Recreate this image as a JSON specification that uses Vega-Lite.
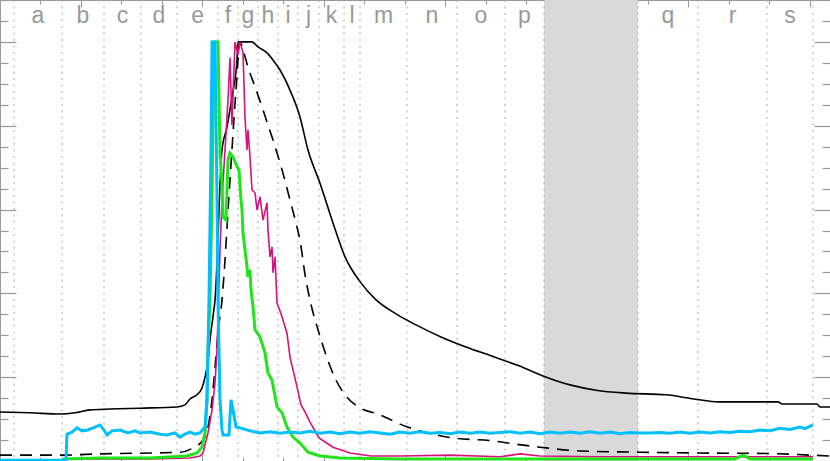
{
  "$schema": "https://vega.github.io/schema/vega-lite/v6.json",
  "width": 830,
  "height": 461,
  "padding": 0,
  "autosize": {"type": "none"},
  "background": "white",
  "config": {"view": {"stroke": null}},
  "resolve": {"axis": {"x": "independent", "y": "independent"}},
  "datasets": {
    "band": [{"t": 13.432, "t2": 15.753}],
    "bounds": [{"t": 0.346}, {"t": 1.531}, {"t": 2.568}, {"t": 3.481}, {"t": 4.370}, {"t": 5.383}, {"t": 5.877}, {"t": 6.370}, {"t": 6.864}, {"t": 7.358}, {"t": 7.877}, {"t": 8.494}, {"t": 8.889}, {"t": 10.049}, {"t": 11.284}, {"t": 12.469}, {"t": 13.432}, {"t": 15.753}, {"t": 17.235}, {"t": 18.938}, {"t": 20.074}],
    "labels": [{"t": 0.938, "label": "a"}, {"t": 2.049, "label": "b"}, {"t": 3.025, "label": "c"}, {"t": 3.926, "label": "d"}, {"t": 4.877, "label": "e"}, {"t": 5.630, "label": "f"}, {"t": 6.123, "label": "g"}, {"t": 6.617, "label": "h"}, {"t": 7.111, "label": "i"}, {"t": 7.617, "label": "j"}, {"t": 8.185, "label": "k"}, {"t": 8.691, "label": "l"}, {"t": 9.469, "label": "m"}, {"t": 10.667, "label": "n"}, {"t": 11.877, "label": "o"}, {"t": 12.951, "label": "p"}, {"t": 16.494, "label": "q"}, {"t": 18.086, "label": "r"}, {"t": 19.506, "label": "s"}],
    "black": [{"t":0,"v":0.117},{"t":0.741,"v":0.115},{"t":1.481,"v":0.112},{"t":1.852,"v":0.115},{"t":2.222,"v":0.122},{"t":2.716,"v":0.124},{"t":3.457,"v":0.126},{"t":4.370,"v":0.129},{"t":4.568,"v":0.134},{"t":4.691,"v":0.148},{"t":4.864,"v":0.158},{"t":4.988,"v":0.174},{"t":5.062,"v":0.200},{"t":5.136,"v":0.241},{"t":5.185,"v":0.289},{"t":5.259,"v":0.344},{"t":5.309,"v":0.384},{"t":5.481,"v":0.742},{"t":5.605,"v":0.797},{"t":5.728,"v":0.869},{"t":5.852,"v":0.957},{"t":5.877,"v":1.0},{"t":6.222,"v":1.0},{"t":6.370,"v":0.988},{"t":6.593,"v":0.974},{"t":6.741,"v":0.957},{"t":6.914,"v":0.933},{"t":7.160,"v":0.885},{"t":7.407,"v":0.821},{"t":7.605,"v":0.742},{"t":7.901,"v":0.663},{"t":8.222,"v":0.568},{"t":8.519,"v":0.487},{"t":8.889,"v":0.428},{"t":9.259,"v":0.387},{"t":9.778,"v":0.351},{"t":10.370,"v":0.320},{"t":10.889,"v":0.296},{"t":11.506,"v":0.272},{"t":12.123,"v":0.251},{"t":12.815,"v":0.227},{"t":13.407,"v":0.203},{"t":14.099,"v":0.181},{"t":14.716,"v":0.169},{"t":15.457,"v":0.162},{"t":16.444,"v":0.158},{"t":17.136,"v":0.148},{"t":17.753,"v":0.141},{"t":19.210,"v":0.141},{"t":19.309,"v":0.136},{"t":20.173,"v":0.136},{"t":20.247,"v":0.129},{"t":20.494,"v":0.129}],
    "dashed": [{"t":0,"v":0.014},{"t":1.481,"v":0.014},{"t":2.469,"v":0.017},{"t":4.444,"v":0.021},{"t":4.765,"v":0.031},{"t":5.012,"v":0.050},{"t":5.136,"v":0.081},{"t":5.235,"v":0.146},{"t":5.309,"v":0.224},{"t":5.383,"v":0.305},{"t":5.481,"v":0.384},{"t":5.679,"v":0.671},{"t":5.827,"v":0.885},{"t":5.926,"v":1.0},{"t":6.0,"v":0.981},{"t":6.123,"v":0.940},{"t":6.296,"v":0.893},{"t":6.469,"v":0.845},{"t":6.617,"v":0.802},{"t":6.741,"v":0.766},{"t":6.840,"v":0.735},{"t":6.963,"v":0.695},{"t":7.160,"v":0.623},{"t":7.333,"v":0.558},{"t":7.407,"v":0.527},{"t":7.531,"v":0.445},{"t":7.654,"v":0.384},{"t":7.852,"v":0.313},{"t":8.049,"v":0.253},{"t":8.296,"v":0.193},{"t":8.519,"v":0.158},{"t":8.815,"v":0.131},{"t":9.383,"v":0.110},{"t":9.679,"v":0.097},{"t":9.877,"v":0.088},{"t":10.296,"v":0.074},{"t":11.185,"v":0.055},{"t":12.173,"v":0.048},{"t":12.667,"v":0.041},{"t":13.333,"v":0.033},{"t":14.321,"v":0.024},{"t":15.802,"v":0.021},{"t":17.284,"v":0.019},{"t":18.938,"v":0.018},{"t":20.0,"v":0.014},{"t":20.494,"v":0.012}],
    "magenta": [{"t":1.531,"v":0.005},{"t":3.704,"v":0.005},{"t":4.691,"v":0.007},{"t":4.938,"v":0.012},{"t":5.012,"v":0.019},{"t":5.136,"v":0.067},{"t":5.235,"v":0.122},{"t":5.309,"v":0.186},{"t":5.358,"v":0.265},{"t":5.432,"v":0.504},{"t":5.481,"v":0.623},{"t":5.556,"v":0.742},{"t":5.630,"v":0.862},{"t":5.679,"v":0.962},{"t":5.728,"v":0.802},{"t":5.802,"v":1.0},{"t":5.877,"v":0.969},{"t":5.926,"v":1.0},{"t":6.0,"v":0.974},{"t":6.049,"v":0.821},{"t":6.099,"v":0.742},{"t":6.123,"v":0.790},{"t":6.173,"v":0.726},{"t":6.222,"v":0.647},{"t":6.296,"v":0.640},{"t":6.346,"v":0.599},{"t":6.420,"v":0.630},{"t":6.494,"v":0.575},{"t":6.593,"v":0.616},{"t":6.617,"v":0.551},{"t":6.667,"v":0.487},{"t":6.716,"v":0.511},{"t":6.741,"v":0.449},{"t":6.790,"v":0.487},{"t":6.840,"v":0.377},{"t":6.914,"v":0.358},{"t":6.963,"v":0.344},{"t":7.086,"v":0.305},{"t":7.160,"v":0.248},{"t":7.235,"v":0.217},{"t":7.333,"v":0.177},{"t":7.432,"v":0.134},{"t":7.531,"v":0.117},{"t":7.654,"v":0.093},{"t":7.877,"v":0.055},{"t":8.222,"v":0.033},{"t":8.642,"v":0.019},{"t":9.160,"v":0.012},{"t":9.877,"v":0.012},{"t":11.111,"v":0.014},{"t":12.346,"v":0.010},{"t":12.840,"v":0.017},{"t":13.333,"v":0.012},{"t":14.815,"v":0.010},{"t":17.284,"v":0.010},{"t":20.074,"v":0.010}],
    "green": [{"t":1.531,"v":0.005},{"t":2.469,"v":0.007},{"t":3.704,"v":0.007},{"t":4.617,"v":0.012},{"t":4.864,"v":0.019},{"t":4.988,"v":0.033},{"t":5.062,"v":0.067},{"t":5.111,"v":0.146},{"t":5.136,"v":0.265},{"t":5.185,"v":0.384},{"t":5.235,"v":0.623},{"t":5.284,"v":1.0},{"t":5.383,"v":1.0},{"t":5.432,"v":0.735},{"t":5.481,"v":0.663},{"t":5.506,"v":0.582},{"t":5.580,"v":0.575},{"t":5.630,"v":0.718},{"t":5.679,"v":0.735},{"t":5.753,"v":0.726},{"t":5.852,"v":0.702},{"t":5.901,"v":0.695},{"t":5.951,"v":0.623},{"t":5.975,"v":0.599},{"t":6.0,"v":0.544},{"t":6.099,"v":0.463},{"t":6.123,"v":0.439},{"t":6.173,"v":0.456},{"t":6.198,"v":0.408},{"t":6.247,"v":0.368},{"t":6.296,"v":0.313},{"t":6.420,"v":0.296},{"t":6.543,"v":0.258},{"t":6.617,"v":0.210},{"t":6.716,"v":0.193},{"t":6.840,"v":0.129},{"t":6.963,"v":0.115},{"t":7.086,"v":0.081},{"t":7.235,"v":0.057},{"t":7.407,"v":0.043},{"t":7.605,"v":0.021},{"t":7.901,"v":0.012},{"t":8.395,"v":0.007},{"t":9.877,"v":0.005},{"t":14.815,"v":0.005},{"t":18.148,"v":0.005},{"t":18.346,"v":0.014},{"t":18.519,"v":0.005},{"t":20.074,"v":0.005}],
    "cyan": [{"t":0,"v":0.002},{"t":1.630,"v":0.002},{"t":1.654,"v":0.064},{"t":1.778,"v":0.069},{"t":1.901,"v":0.079},{"t":2.025,"v":0.072},{"t":2.173,"v":0.074},{"t":2.346,"v":0.081},{"t":2.469,"v":0.086},{"t":2.568,"v":0.074},{"t":2.642,"v":0.062},{"t":2.765,"v":0.072},{"t":2.963,"v":0.074},{"t":3.160,"v":0.067},{"t":3.333,"v":0.072},{"t":3.457,"v":0.067},{"t":3.704,"v":0.069},{"t":3.951,"v":0.064},{"t":4.123,"v":0.062},{"t":4.321,"v":0.067},{"t":4.444,"v":0.057},{"t":4.568,"v":0.064},{"t":4.691,"v":0.069},{"t":4.815,"v":0.064},{"t":4.938,"v":0.067},{"t":5.062,"v":0.081},{"t":5.111,"v":0.146},{"t":5.160,"v":0.384},{"t":5.210,"v":0.742},{"t":5.235,"v":1.0},{"t":5.309,"v":1.0},{"t":5.358,"v":0.623},{"t":5.383,"v":0.384},{"t":5.432,"v":0.146},{"t":5.481,"v":0.074},{"t":5.506,"v":0.062},{"t":5.654,"v":0.062},{"t":5.704,"v":0.146},{"t":5.753,"v":0.122},{"t":5.827,"v":0.081},{"t":5.926,"v":0.079},{"t":6.173,"v":0.072},{"t":6.420,"v":0.067},{"t":6.667,"v":0.070},{"t":6.914,"v":0.066},{"t":7.160,"v":0.069},{"t":7.407,"v":0.067},{"t":7.654,"v":0.071},{"t":7.901,"v":0.066},{"t":8.148,"v":0.069},{"t":8.395,"v":0.065},{"t":8.642,"v":0.069},{"t":8.889,"v":0.066},{"t":9.136,"v":0.070},{"t":9.383,"v":0.067},{"t":9.630,"v":0.064},{"t":9.877,"v":0.069},{"t":10.123,"v":0.066},{"t":10.370,"v":0.070},{"t":10.617,"v":0.066},{"t":10.864,"v":0.068},{"t":11.111,"v":0.065},{"t":11.358,"v":0.069},{"t":11.605,"v":0.066},{"t":11.852,"v":0.069},{"t":12.099,"v":0.066},{"t":12.346,"v":0.068},{"t":12.593,"v":0.070},{"t":12.840,"v":0.066},{"t":13.086,"v":0.069},{"t":13.333,"v":0.065},{"t":13.580,"v":0.069},{"t":13.827,"v":0.066},{"t":14.074,"v":0.069},{"t":14.321,"v":0.066},{"t":14.568,"v":0.070},{"t":14.815,"v":0.066},{"t":15.062,"v":0.069},{"t":15.309,"v":0.065},{"t":15.556,"v":0.068},{"t":15.802,"v":0.067},{"t":16.049,"v":0.067},{"t":16.296,"v":0.068},{"t":16.543,"v":0.066},{"t":16.790,"v":0.069},{"t":17.037,"v":0.066},{"t":17.284,"v":0.069},{"t":17.531,"v":0.067},{"t":17.778,"v":0.070},{"t":18.025,"v":0.068},{"t":18.272,"v":0.071},{"t":18.519,"v":0.070},{"t":18.765,"v":0.074},{"t":19.012,"v":0.072},{"t":19.259,"v":0.078},{"t":19.506,"v":0.075},{"t":19.753,"v":0.081},{"t":19.877,"v":0.077},{"t":20.074,"v":0.086}]
  },
  "layer": [
    {
      "data": {"name": "band"},
      "mark": {"type": "rect", "color": "#d9d9d9"},
      "encoding": {
        "x": {"field": "t", "type": "quantitative", "scale": {"domain": [0, 20.494], "nice": false, "zero": false}, "axis": null},
        "x2": {"field": "t2"},
        "y": {"datum": 0, "type": "quantitative", "scale": {"domain": [0, 1.1], "nice": false, "zero": false}, "axis": null},
        "y2": {"datum": 1.1}
      }
    },
    {
      "data": {"name": "bounds"},
      "mark": {"type": "rule", "color": "#aaaaaa", "strokeWidth": 1, "strokeDash": [2, 4.5]},
      "encoding": {
        "x": {"field": "t", "type": "quantitative", "scale": {"domain": [0, 20.494], "nice": false, "zero": false}, "axis": null}
      }
    },
    {
      "data": {"name": "labels"},
      "mark": {"type": "text", "color": "#999999", "font": "Liberation Sans", "fontSize": 23, "align": "center", "baseline": "alphabetic"},
      "encoding": {
        "x": {"field": "t", "type": "quantitative", "scale": {"domain": [0, 20.494], "nice": false, "zero": false}, "axis": null},
        "y": {"datum": 1.045, "type": "quantitative", "scale": {"domain": [0, 1.1], "nice": false, "zero": false}, "axis": null},
        "text": {"field": "label"}
      }
    },
    {
      "data": {"name": "black"},
      "mark": {"type": "line", "color": "#000000", "strokeWidth": 1.6, "interpolate": "monotone"},
      "encoding": {
        "x": {"field": "t", "type": "quantitative", "scale": {"domain": [0, 20.494], "nice": false, "zero": false}, "axis": null},
        "y": {"field": "v", "type": "quantitative", "scale": {"domain": [0, 1.1], "nice": false, "zero": false}, "axis": null}
      }
    },
    {
      "data": {"name": "dashed"},
      "mark": {"type": "line", "color": "#000000", "strokeWidth": 1.6, "strokeDash": [12, 8], "interpolate": "monotone"},
      "encoding": {
        "x": {"field": "t", "type": "quantitative", "scale": {"domain": [0, 20.494], "nice": false, "zero": false}, "axis": null},
        "y": {"field": "v", "type": "quantitative", "scale": {"domain": [0, 1.1], "nice": false, "zero": false}, "axis": null}
      }
    },
    {
      "data": {"name": "magenta"},
      "mark": {"type": "line", "color": "#d6137d", "strokeWidth": 1.6},
      "encoding": {
        "x": {"field": "t", "type": "quantitative", "scale": {"domain": [0, 20.494], "nice": false, "zero": false}, "axis": null},
        "y": {"field": "v", "type": "quantitative", "scale": {"domain": [0, 1.1], "nice": false, "zero": false}, "axis": null}
      }
    },
    {
      "data": {"name": "green"},
      "mark": {"type": "line", "color": "#22e41a", "strokeWidth": 3},
      "encoding": {
        "x": {"field": "t", "type": "quantitative", "scale": {"domain": [0, 20.494], "nice": false, "zero": false},
          "axis": {"orient": "top", "values": [1,2,3,4,5,6,7,8,9,10,11,12,13,14,15,16,17,18,19,20], "labels": false, "title": null, "grid": false, "domain": true, "domainColor": "#999999", "tickColor": "#999999", "tickWidth": 1,
            "tickSize": {"condition": {"test": "round(datum.value) % 3 == 2", "value": -7}, "value": -4}}},
        "y": {"field": "v", "type": "quantitative", "scale": {"domain": [0, 1.1], "nice": false, "zero": false},
          "axis": {"orient": "right", "values": [0,0.05,0.1,0.15,0.2,0.25,0.3,0.35,0.4,0.45,0.5,0.55,0.6,0.65,0.7,0.75,0.8,0.85,0.9,0.95,1.0,1.05,1.1], "labels": false, "title": null, "grid": false, "domain": true, "domainColor": "#999999", "tickColor": "#999999", "tickWidth": 1.2,
            "tickSize": {"condition": {"test": "abs(datum.value*5 - round(datum.value*5)) < 0.01", "value": -16}, "value": -8}}}
      }
    },
    {
      "data": {"name": "cyan"},
      "mark": {"type": "line", "color": "#00bfff", "strokeWidth": 3},
      "encoding": {
        "x": {"field": "t", "type": "quantitative", "scale": {"domain": [0, 20.494], "nice": false, "zero": false},
          "axis": {"orient": "bottom", "values": [1,2,3,4,5,6,7,8,9,10,11,12,13,14,15,16,17,18,19,20], "labels": false, "title": null, "grid": false, "domain": true, "domainColor": "#999999", "tickColor": "#999999", "tickWidth": 1,
            "tickSize": {"condition": {"test": "round(datum.value) % 3 == 2", "value": -7}, "value": -4}}},
        "y": {"field": "v", "type": "quantitative", "scale": {"domain": [0, 1.1], "nice": false, "zero": false},
          "axis": {"orient": "left", "values": [0,0.05,0.1,0.15,0.2,0.25,0.3,0.35,0.4,0.45,0.5,0.55,0.6,0.65,0.7,0.75,0.8,0.85,0.9,0.95,1.0,1.05,1.1], "labels": false, "title": null, "grid": false, "domain": true, "domainColor": "#999999", "tickColor": "#999999", "tickWidth": 1.2,
            "tickSize": {"condition": {"test": "abs(datum.value*5 - round(datum.value*5)) < 0.01", "value": -16}, "value": -8}}}
      }
    }
  ]
}
